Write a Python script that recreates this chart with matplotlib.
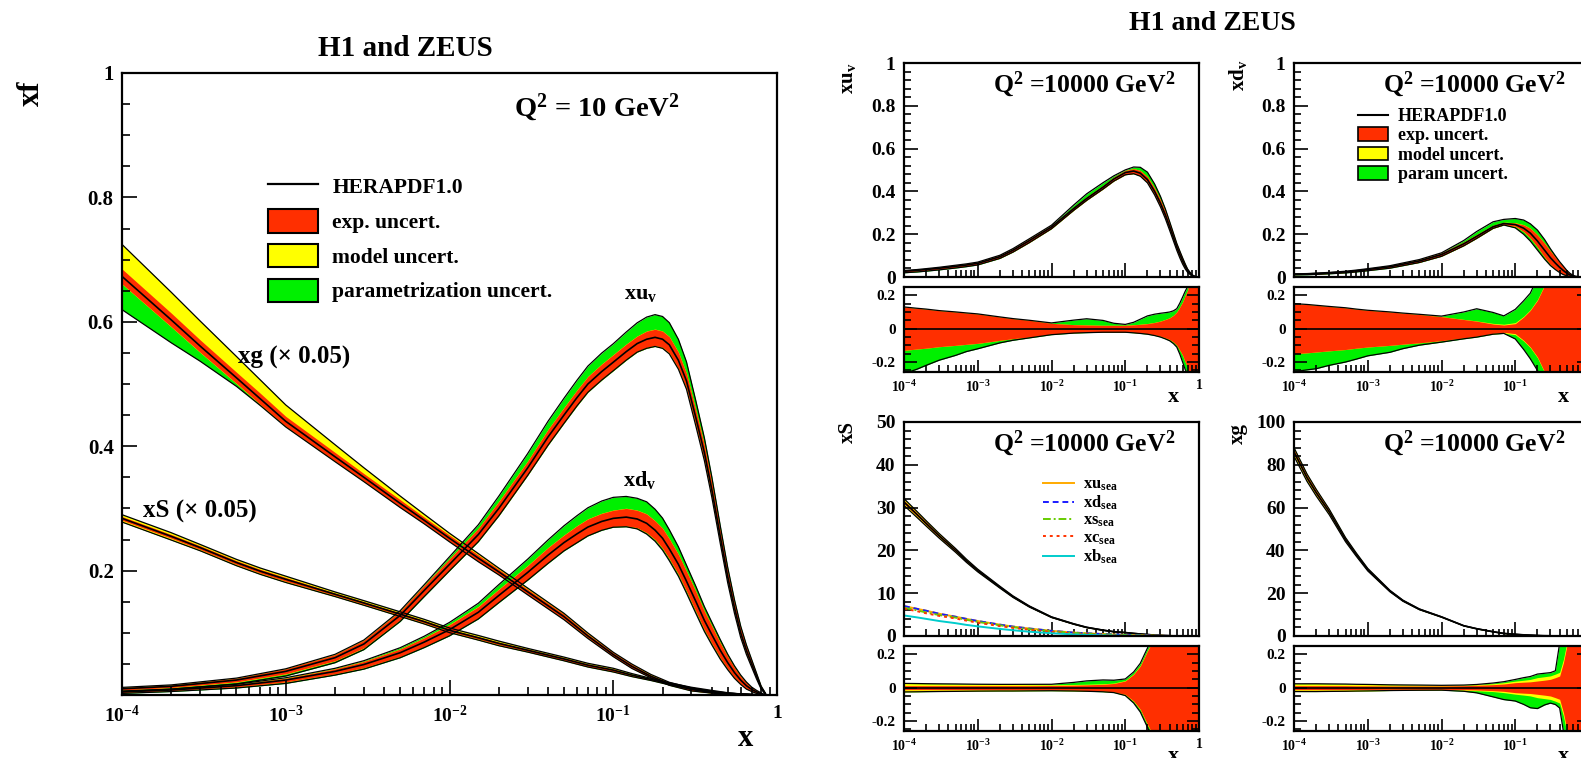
import numpy as np
import matplotlib
matplotlib.use('Agg')
import matplotlib.pyplot as plt
from matplotlib.ticker import LogLocator, NullFormatter, FuncFormatter, MultipleLocator
from matplotlib.lines import Line2D
from matplotlib.patches import Patch

plt.rcParams['font.family'] = ['Liberation Serif', 'DejaVu Serif']
plt.rcParams['font.weight'] = 'bold'
plt.rcParams['mathtext.fontset'] = 'custom'
plt.rcParams['mathtext.rm'] = 'Liberation Serif:bold'
plt.rcParams['mathtext.it'] = 'Liberation Serif:bold'
plt.rcParams['mathtext.bf'] = 'Liberation Serif:bold'
plt.rcParams['axes.unicode_minus'] = False

RED = '#ff2f00'
YEL = '#ffff00'
GRN = '#00f000'

# ---------------- left panel, Q2 = 10 GeV2 ----------------
# xg and xS (both x 0.05)
lx = [1e-4, 2e-4, 3e-4, 5e-4, 7e-4, 1e-3, 2e-3, 3e-3, 5e-3, 7e-3, 1e-2, 1.5e-2, 2e-2, 3e-2,
      5e-2, 7e-2, 0.1, 0.13, 0.17, 0.22, 0.3, 0.4, 0.5, 0.6, 0.7, 0.8, 0.9]

Lg_c = [0.673, 0.603, 0.561, 0.510, 0.476, 0.440, 0.383, 0.350, 0.308, 0.281, 0.252, 0.220, 0.198, 0.166,
        0.126, 0.095, 0.065, 0.046, 0.030, 0.018, 0.009, 0.004, 0.002, 0.001, 0.0005, 0.0002, 0.0]
Lg_exp = [0.012, 0.011, 0.010, 0.009, 0.009, 0.008, 0.007, 0.006, 0.006, 0.005, 0.005, 0.005, 0.004, 0.004,
          0.004, 0.003, 0.003, 0.003, 0.002, 0.002, 0.002, 0.001, 0.001, 0.001, 0.0005, 0.0002, 0.0]
Lg_mod_up = [0.050, 0.043, 0.039, 0.033, 0.029, 0.025, 0.018, 0.014, 0.010, 0.008, 0.006, 0.005, 0.004, 0.004,
             0.003, 0.003, 0.002, 0.002, 0.002, 0.001, 0.001, 0.001, 0.0005, 0.0, 0.0, 0.0, 0.0]
Lg_mod_dn = [0.003, 0.003, 0.003, 0.003, 0.003, 0.003, 0.003, 0.003, 0.002, 0.002, 0.002, 0.002, 0.002, 0.002,
             0.002, 0.002, 0.001, 0.001, 0.001, 0.001, 0.001, 0.0, 0.0, 0.0, 0.0, 0.0, 0.0]
Lg_par_up = [0.002, 0.002, 0.002, 0.002, 0.002, 0.002, 0.002, 0.002, 0.002, 0.002, 0.002, 0.002, 0.002, 0.002,
             0.002, 0.002, 0.001, 0.001, 0.001, 0.001, 0.001, 0.0, 0.0, 0.0, 0.0, 0.0, 0.0]
Lg_par_dn = [0.052, 0.035, 0.022, 0.010, 0.005, 0.003, 0.002, 0.002, 0.002, 0.002, 0.002, 0.002, 0.002, 0.002,
             0.002, 0.002, 0.001, 0.001, 0.001, 0.001, 0.001, 0.0, 0.0, 0.0, 0.0, 0.0, 0.0]

LS_c = [0.284, 0.255, 0.237, 0.213, 0.199, 0.186, 0.162, 0.148, 0.130, 0.118, 0.104, 0.092, 0.083, 0.072,
        0.058, 0.048, 0.040, 0.032, 0.025, 0.018, 0.011, 0.006, 0.003, 0.0015, 0.0007, 0.0002, 0.0]
LS_exp = [0.003, 0.003, 0.003, 0.003, 0.003, 0.003, 0.002, 0.002, 0.002, 0.002, 0.002, 0.002, 0.002, 0.002,
          0.002, 0.002, 0.002, 0.001, 0.001, 0.001, 0.001, 0.001, 0.0005, 0.0, 0.0, 0.0, 0.0]
LS_mod = [0.005, 0.005, 0.004, 0.004, 0.004, 0.004, 0.003, 0.003, 0.003, 0.003, 0.003, 0.003, 0.003, 0.002,
          0.002, 0.002, 0.002, 0.002, 0.001, 0.001, 0.001, 0.001, 0.0005, 0.0, 0.0, 0.0, 0.0]
LS_par = [0.001, 0.001, 0.001, 0.001, 0.001, 0.001, 0.001, 0.001, 0.001, 0.001, 0.001, 0.001, 0.001, 0.001,
          0.001, 0.001, 0.001, 0.001, 0.001, 0.001, 0.0005, 0.0, 0.0, 0.0, 0.0, 0.0, 0.0]

# valence distributions, denser in x around the peaks
vx = [1e-4, 2e-4, 5e-4, 1e-3, 2e-3, 3e-3, 5e-3, 7e-3, 1e-2, 1.5e-2,
      2e-2, 3e-2, 4e-2, 5e-2, 6e-2, 7e-2, 8.5e-2, 0.1, 0.12, 0.14,
      0.16, 0.18, 0.2, 0.22, 0.25, 0.28, 0.32, 0.36, 0.4, 0.45,
      0.5, 0.55, 0.6, 0.65, 0.7, 0.75, 0.8, 0.85]

Luv_c = [0.010, 0.014, 0.024, 0.038, 0.060, 0.082, 0.128, 0.168, 0.210, 0.258,
         0.300, 0.365, 0.415, 0.450, 0.478, 0.500, 0.520, 0.535, 0.552, 0.565,
         0.572, 0.575, 0.572, 0.563, 0.538, 0.505, 0.445, 0.390, 0.330, 0.255,
         0.190, 0.140, 0.100, 0.072, 0.050, 0.030, 0.012, 0.002]
Luv_exp = [0.002, 0.002, 0.003, 0.004, 0.005, 0.006, 0.007, 0.008, 0.009, 0.010,
           0.011, 0.011, 0.012, 0.012, 0.012, 0.012, 0.012, 0.012, 0.012, 0.012,
           0.013, 0.013, 0.013, 0.013, 0.013, 0.012, 0.012, 0.012, 0.011, 0.010,
           0.009, 0.008, 0.007, 0.006, 0.005, 0.004, 0.002, 0.001]
Luv_mod_up = [0.001, 0.001, 0.001, 0.001, 0.002, 0.002, 0.002, 0.002, 0.002, 0.002,
              0.003, 0.003, 0.003, 0.003, 0.003, 0.003, 0.003, 0.003, 0.003, 0.003,
              0.003, 0.003, 0.003, 0.003, 0.003, 0.003, 0.003, 0.003, 0.003, 0.003,
              0.002, 0.002, 0.002, 0.002, 0.001, 0.001, 0.001, 0.0]
Luv_mod_dn = [0.001, 0.001, 0.002, 0.002, 0.002, 0.003, 0.003, 0.003, 0.003, 0.004,
              0.004, 0.004, 0.005, 0.005, 0.005, 0.005, 0.006, 0.006, 0.006, 0.006,
              0.006, 0.006, 0.006, 0.006, 0.005, 0.005, 0.005, 0.004, 0.004, 0.003,
              0.003, 0.003, 0.002, 0.002, 0.001, 0.001, 0.001, 0.0]
Luv_par_up = [0.0, 0.0, 0.0, 0.0, 0.0, 0.001, 0.002, 0.004, 0.008, 0.012,
              0.016, 0.020, 0.022, 0.024, 0.025, 0.026, 0.027, 0.027, 0.029, 0.031,
              0.033, 0.034, 0.034, 0.033, 0.031, 0.028, 0.024, 0.020, 0.017, 0.014,
              0.012, 0.010, 0.008, 0.006, 0.005, 0.003, 0.001, 0.0]
Luv_par_dn = [0.004, 0.004, 0.005, 0.006, 0.006, 0.006, 0.006, 0.005, 0.004, 0.004,
              0.003, 0.003, 0.003, 0.003, 0.003, 0.003, 0.003, 0.003, 0.003, 0.003,
              0.003, 0.003, 0.003, 0.003, 0.003, 0.003, 0.003, 0.003, 0.003, 0.003,
              0.002, 0.002, 0.002, 0.002, 0.001, 0.001, 0.001, 0.0]

Ldv_c = [0.005, 0.008, 0.015, 0.024, 0.038, 0.049, 0.068, 0.085, 0.105, 0.133,
         0.160, 0.197, 0.225, 0.245, 0.259, 0.270, 0.279, 0.284, 0.286, 0.283,
         0.276, 0.265, 0.252, 0.235, 0.210, 0.183, 0.150, 0.120, 0.097, 0.072,
         0.052, 0.036, 0.024, 0.015, 0.009, 0.005, 0.002, 0.0]
Ldv_exp = [0.001, 0.001, 0.002, 0.003, 0.004, 0.005, 0.006, 0.007, 0.008, 0.009,
           0.010, 0.011, 0.012, 0.012, 0.013, 0.013, 0.013, 0.013, 0.014, 0.014,
           0.015, 0.015, 0.016, 0.016, 0.016, 0.016, 0.016, 0.015, 0.014, 0.012,
           0.010, 0.008, 0.006, 0.005, 0.003, 0.002, 0.001, 0.0]
Ldv_mod = [0.001, 0.001, 0.001, 0.002, 0.002, 0.002, 0.002, 0.002, 0.003, 0.003,
           0.003, 0.003, 0.003, 0.003, 0.003, 0.003, 0.003, 0.003, 0.003, 0.003,
           0.003, 0.003, 0.003, 0.003, 0.003, 0.003, 0.003, 0.003, 0.003, 0.003,
           0.002, 0.002, 0.002, 0.001, 0.001, 0.001, 0.0, 0.0]
Ldv_par_up = [0.0, 0.0, 0.0, 0.001, 0.002, 0.003, 0.005, 0.006, 0.008, 0.011,
              0.014, 0.018, 0.021, 0.024, 0.026, 0.028, 0.030, 0.031, 0.030, 0.030,
              0.031, 0.030, 0.028, 0.026, 0.023, 0.020, 0.018, 0.016, 0.014, 0.012,
              0.009, 0.007, 0.005, 0.003, 0.002, 0.001, 0.001, 0.0]
Ldv_par_dn = [0.002, 0.002, 0.003, 0.004, 0.004, 0.005, 0.005, 0.005, 0.005, 0.005,
              0.005, 0.005, 0.005, 0.005, 0.005, 0.005, 0.005, 0.005, 0.006, 0.007,
              0.008, 0.009, 0.010, 0.010, 0.010, 0.010, 0.010, 0.009, 0.008, 0.007,
              0.005, 0.004, 0.003, 0.002, 0.001, 0.001, 0.0, 0.0]

# ---------------- right panels, Q2 = 10000 GeV2 (uncertainties are relative) ----------------
rx = [1e-4, 1.5e-4, 2e-4, 3e-4, 5e-4, 7e-4, 1e-3, 2e-3, 3e-3, 5e-3,
      1e-2, 2e-2, 3e-2, 5e-2, 7e-2, 0.1, 0.13, 0.16, 0.2, 0.25,
      0.3, 0.35, 0.4, 0.45, 0.5, 0.55, 0.6, 0.65, 0.7, 0.8,
      0.9, 1.0]

uv_c = [0.027, 0.031, 0.035, 0.041, 0.050, 0.056, 0.064, 0.095, 0.125, 0.170,
        0.234, 0.320, 0.367, 0.420, 0.458, 0.488, 0.495, 0.485, 0.455, 0.400,
        0.345, 0.290, 0.235, 0.185, 0.140, 0.105, 0.075, 0.050, 0.030, 0.008,
        0.001, 0.0]
uv_exp = [0.13, 0.122, 0.117, 0.108, 0.10, 0.094, 0.088, 0.07, 0.06, 0.05,
          0.032, 0.024, 0.022, 0.02, 0.02, 0.02, 0.023, 0.026, 0.03, 0.037,
          0.045, 0.055, 0.065, 0.08, 0.10, 0.13, 0.16, 0.2, 0.23, 0.35,
          0.45, 0.5]
uv_mod = [0.01, 0.01, 0.01, 0.01, 0.01, 0.01, 0.01, 0.008, 0.007, 0.006,
          0.005, 0.005, 0.005, 0.005, 0.005, 0.005, 0.006, 0.007, 0.008, 0.009,
          0.01, 0.011, 0.012, 0.013, 0.015, 0.017, 0.02, 0.02, 0.02, 0.02,
          0.02, 0.02]
uv_par_up = [0.0, 0.0, 0.0, 0.0, 0.0, 0.0, 0.0, 0.0, 0.0, 0.0,
             0.012, 0.045, 0.055, 0.045, 0.025, 0.015, 0.03, 0.05, 0.07, 0.078,
             0.08, 0.078, 0.075, 0.07, 0.065, 0.08, 0.1, 0.1, 0.1, 0.05,
             0.05, 0.05]
uv_par_dn = [0.237, 0.21, 0.186, 0.155, 0.125, 0.1, 0.082, 0.048, 0.035, 0.023,
             0.016, 0.01, 0.008, 0.006, 0.006, 0.006, 0.008, 0.01, 0.012, 0.016,
             0.02, 0.025, 0.03, 0.038, 0.045, 0.08, 0.12, 0.14, 0.15, 0.15,
             0.15, 0.15]

dv_c = [0.013, 0.014, 0.016, 0.019, 0.024, 0.029, 0.035, 0.048, 0.060, 0.075,
        0.105, 0.155, 0.190, 0.235, 0.250, 0.245, 0.228, 0.205, 0.168, 0.125,
        0.090, 0.065, 0.045, 0.030, 0.018, 0.010, 0.005, 0.002, 0.001, 0.0,
        0.0, 0.0]
dv_exp = [0.15, 0.145, 0.14, 0.133, 0.125, 0.117, 0.11, 0.10, 0.093, 0.085,
          0.072, 0.055, 0.045, 0.028, 0.022, 0.03, 0.07, 0.11, 0.17, 0.26,
          0.35, 0.42, 0.5, 0.6, 0.65, 0.7, 0.75, 0.8, 0.9, 1.0,
          1.0, 1.0]
dv_mod = [0.01, 0.01, 0.01, 0.01, 0.01, 0.01, 0.01, 0.01, 0.01, 0.01,
          0.01, 0.01, 0.012, 0.015, 0.015, 0.02, 0.025, 0.03, 0.04, 0.045,
          0.05, 0.05, 0.05, 0.05, 0.05, 0.05, 0.05, 0.05, 0.05, 0.05,
          0.05, 0.05]
dv_par_up = [0.0, 0.0, 0.0, 0.0, 0.0, 0.0, 0.0, 0.0, 0.0, 0.01,
             0.02, 0.083, 0.11, 0.092, 0.072, 0.11, 0.15, 0.18, 0.25, 0.3,
             0.3, 0.3, 0.3, 0.3, 0.3, 0.3, 0.3, 0.3, 0.3, 0.3,
             0.3, 0.3]
dv_par_dn = [0.21, 0.2, 0.195, 0.175, 0.156, 0.14, 0.12, 0.10, 0.075, 0.05,
             0.035, 0.024, 0.02, 0.01, 0.01, 0.05, 0.1, 0.14, 0.18, 0.2,
             0.2, 0.2, 0.2, 0.2, 0.2, 0.2, 0.2, 0.2, 0.2, 0.2,
             0.2, 0.2]

S_c = [31.3, 28.4, 26.3, 23.4, 20.0, 17.6, 15.3, 11.4, 9.2, 6.9,
       4.4, 2.8, 2.0, 1.35, 1.0, 0.8, 0.6, 0.45, 0.32, 0.2,
       0.14, 0.09, 0.06, 0.04, 0.025, 0.016, 0.01, 0.006, 0.004, 0.001,
       0.0, 0.0]
S_exp = [0.012, 0.012, 0.012, 0.012, 0.012, 0.012, 0.012, 0.012, 0.012, 0.012,
         0.013, 0.015, 0.017, 0.02, 0.025, 0.04, 0.08, 0.13, 0.22, 0.3,
         0.4, 0.5, 0.6, 0.7, 0.8, 0.9, 1.0, 1.0, 1.0, 1.0,
         1.0, 1.0]
S_mod = [0.022, 0.021, 0.02, 0.019, 0.018, 0.017, 0.016, 0.015, 0.015, 0.014,
         0.012, 0.012, 0.012, 0.012, 0.012, 0.015, 0.022, 0.03, 0.04, 0.05,
         0.05, 0.05, 0.05, 0.05, 0.05, 0.05, 0.05, 0.05, 0.05, 0.05,
         0.05, 0.05]
S_par_up = [0.005, 0.005, 0.005, 0.005, 0.005, 0.005, 0.005, 0.005, 0.005, 0.008,
            0.01, 0.025, 0.035, 0.04, 0.035, 0.03, 0.045, 0.06, 0.08, 0.1,
            0.1, 0.1, 0.1, 0.1, 0.1, 0.1, 0.1, 0.1, 0.1, 0.1,
            0.1, 0.1]
S_par_dn = [0.005, 0.005, 0.005, 0.005, 0.005, 0.005, 0.005, 0.005, 0.005, 0.005,
            0.005, 0.005, 0.006, 0.008, 0.01, 0.02, 0.04, 0.06, 0.08, 0.1,
            0.1, 0.1, 0.1, 0.1, 0.1, 0.1, 0.1, 0.1, 0.1, 0.1,
            0.1, 0.1]

g_c = [86.0, 74.0, 67.0, 58.0, 45.0, 38.0, 31.0, 21.0, 16.5, 12.5,
       8.9, 4.8, 3.4, 2.0, 1.2, 0.8, 0.55, 0.38, 0.24, 0.14,
       0.09, 0.055, 0.035, 0.022, 0.013, 0.008, 0.005, 0.003, 0.002, 0.0005,
       0.0, 0.0]
g_exp = [0.012, 0.012, 0.012, 0.012, 0.012, 0.011, 0.011, 0.01, 0.01, 0.01,
         0.01, 0.012, 0.014, 0.018, 0.022, 0.03, 0.033, 0.035, 0.04, 0.045,
         0.05, 0.06, 0.07, 0.15, 0.25, 0.35, 0.5, 0.6, 0.8, 1.0,
         1.0, 1.0]
g_mod = [0.02, 0.02, 0.02, 0.019, 0.018, 0.017, 0.016, 0.014, 0.013, 0.012,
         0.01, 0.01, 0.012, 0.015, 0.02, 0.025, 0.03, 0.035, 0.045, 0.048,
         0.05, 0.055, 0.06, 0.08, 0.1, 0.12, 0.15, 0.18, 0.2, 0.2,
         0.2, 0.2]
g_par_up = [0.0, 0.0, 0.0, 0.0, 0.0, 0.0, 0.0, 0.0, 0.0, 0.0,
            0.0, 0.0, 0.005, 0.015, 0.02, 0.03, 0.04, 0.045, 0.055, 0.056,
            0.056, 0.06, 0.25, 0.3, 0.3, 0.3, 0.3, 0.3, 0.3, 0.3,
            0.3, 0.3]
g_par_dn = [0.0, 0.0, 0.0, 0.0, 0.0, 0.0, 0.0, 0.0, 0.0, 0.0,
            0.005, 0.015, 0.025, 0.05, 0.065, 0.07, 0.09, 0.11, 0.11, 0.08,
            0.06, 0.06, 0.08, 0.2, 0.3, 0.3, 0.3, 0.3, 0.3, 0.3,
            0.3, 0.3]

# sea quark components in the xS panel
u_sea = [7.0, 6.35, 5.9, 5.2, 4.5, 4.0, 3.5, 2.65, 2.2, 1.75,
         1.2, 0.8, 0.62, 0.44, 0.35, 0.27, 0.21, 0.16, 0.11, 0.075,
         0.05, 0.032, 0.02, 0.013, 0.008, 0.005, 0.003, 0.002, 0.001, 0.0,
         0.0, 0.0]
d_sea = [7.0, 6.35, 5.9, 5.2, 4.5, 4.0, 3.5, 2.65, 2.2, 1.75,
         1.2, 0.8, 0.63, 0.46, 0.37, 0.29, 0.23, 0.18, 0.12, 0.085,
         0.055, 0.036, 0.024, 0.016, 0.01, 0.006, 0.004, 0.002, 0.001, 0.0,
         0.0, 0.0]
s_sea = [6.6, 6.0, 5.5, 4.9, 4.3, 3.8, 3.3, 2.5, 2.05, 1.6,
         1.1, 0.72, 0.55, 0.38, 0.29, 0.21, 0.15, 0.11, 0.075, 0.045,
         0.03, 0.018, 0.012, 0.007, 0.005, 0.003, 0.002, 0.001, 0.0, 0.0,
         0.0, 0.0]
c_sea = [6.4, 5.8, 5.3, 4.7, 4.1, 3.6, 3.1, 2.3, 1.9, 1.45,
         0.95, 0.58, 0.42, 0.27, 0.19, 0.12, 0.08, 0.055, 0.03, 0.017,
         0.01, 0.006, 0.003, 0.002, 0.001, 0.0, 0.0, 0.0, 0.0, 0.0,
         0.0, 0.0]
b_sea = [4.8, 4.35, 4.0, 3.5, 3.0, 2.6, 2.25, 1.65, 1.35, 1.0,
         0.65, 0.38, 0.27, 0.16, 0.11, 0.07, 0.045, 0.03, 0.018, 0.01,
         0.006, 0.003, 0.002, 0.001, 0.0, 0.0, 0.0, 0.0, 0.0, 0.0,
         0.0, 0.0]
sea_lines = [('xu$_{sea}$', u_sea, '#ffaa00', '-'),
             ('xd$_{sea}$', d_sea, '#1a1aff', (0, (3, 2))),
             ('xs$_{sea}$', s_sea, '#66cc00', (0, (4, 1.5, 1, 1.5))),
             ('xc$_{sea}$', c_sea, '#ff3300', (0, (1.5, 2))),
             ('xb$_{sea}$', b_sea, '#00cccc', '-')]


def draw_band(ax, x, c, exp, mup, mdn, pup, pdn, scale=False):
    # red = exp, yellow = exp+model, green = exp+model+param (added in quadrature)
    c = np.asarray(c, float)
    k = c if scale else np.ones_like(c)
    e = np.asarray(exp) * k
    y_up = np.sqrt(e**2 + (np.asarray(mup) * k)**2)
    y_dn = np.sqrt(e**2 + (np.asarray(mdn) * k)**2)
    g_up = np.sqrt(y_up**2 + (np.asarray(pup) * k)**2)
    g_dn = np.sqrt(y_dn**2 + (np.asarray(pdn) * k)**2)
    ax.fill_between(x, c - g_dn, c + g_up, color=GRN, lw=0)
    ax.fill_between(x, c - y_dn, c + y_up, color=YEL, lw=0)
    ax.fill_between(x, c - e, c + e, color=RED, lw=0)
    ax.plot(x, c + g_up, color='k', lw=0.9)
    ax.plot(x, c - g_dn, color='k', lw=0.9)
    ax.plot(x, c, color='k', lw=1.2)


def log_fmt(v, pos):
    e = int(round(np.log10(v)))
    return '1' if e == 0 else r'10$^{%d}$' % e


def style(ax, xlab=True, xfs=12, yfs=14, right=False, maj=10, mnr=5):
    ax.set_xscale('log')
    ax.set_xlim(1e-4, 1)
    ax.xaxis.set_major_locator(LogLocator(base=10, numticks=10))
    ax.xaxis.set_minor_locator(LogLocator(base=10, subs=np.arange(2, 10), numticks=10))
    ax.xaxis.set_minor_formatter(NullFormatter())
    ax.xaxis.set_major_formatter(FuncFormatter(log_fmt) if xlab else NullFormatter())
    ax.tick_params(which='both', direction='in', top=False, right=right, width=1.2)
    ax.tick_params(which='major', length=maj)
    ax.tick_params(which='minor', length=mnr)
    ax.tick_params(axis='x', labelsize=xfs, pad=7)
    ax.tick_params(axis='y', labelsize=yfs, pad=6)
    ax.yaxis.set_major_formatter(FuncFormatter(lambda v, p: '%g' % round(v, 3)))
    for s in ax.spines.values():
        s.set_linewidth(1.6)


W, H = 1581, 758
fig = plt.figure(figsize=(W / 100, H / 100), dpi=100)


def add_px(l, t, r, b):
    return fig.add_axes([l / W, 1 - b / H, (r - l) / W, (b - t) / H])


def ftext(x, y, s, **kw):
    fig.text(x / W, 1 - y / H, s, **kw)


# ---- big left panel ----
ax = add_px(122, 73, 777, 695)
draw_band(ax, lx, Lg_c, Lg_exp, Lg_mod_up, Lg_mod_dn, Lg_par_up, Lg_par_dn)
draw_band(ax, lx, LS_c, LS_exp, LS_mod, LS_mod, LS_par, LS_par)
draw_band(ax, vx, Luv_c, Luv_exp, Luv_mod_up, Luv_mod_dn, Luv_par_up, Luv_par_dn)
draw_band(ax, vx, Ldv_c, Ldv_exp, Ldv_mod, Ldv_mod, Ldv_par_up, Ldv_par_dn)
style(ax, xfs=14, yfs=15, maj=11, mnr=6)
ax.set_ylim(0, 1)
ax.set_yticks([0.2, 0.4, 0.6, 0.8, 1.0])
ax.yaxis.set_minor_locator(MultipleLocator(0.05))
ax.text(0.147, 0.645, 'xu$_{v}$', fontsize=16, ha='center', va='center')
ax.text(0.145, 0.345, 'xd$_{v}$', fontsize=16, ha='center', va='center')
ax.text(1.12e-3, 0.543, 'xg (\u00d7 0.05)', fontsize=18, ha='center', va='center')
ax.text(3.0e-4, 0.295, 'xS (\u00d7 0.05)', fontsize=18, ha='center', va='center')
ax.text(0.725, 0.943, r'Q$^{2}$ = 10 GeV$^{2}$', fontsize=20.5, ha='center', va='center',
        transform=ax.transAxes)
handles = [Line2D([], [], color='k', lw=1.6),
           Patch(facecolor=RED, edgecolor='k', lw=1.5),
           Patch(facecolor=YEL, edgecolor='k', lw=1.5),
           Patch(facecolor=GRN, edgecolor='k', lw=1.5)]
ax.legend(handles, ['HERAPDF1.0', 'exp. uncert.', 'model uncert.', 'parametrization uncert.'],
          loc='upper left', bbox_to_anchor=(0.223, 0.837), frameon=False, fontsize=15.5,
          handlelength=2.33, handleheight=1.3, labelspacing=0.5, borderpad=0, borderaxespad=0,
          handletextpad=0.65)
ftext(405, 48, 'H1 and ZEUS', fontsize=21, ha='center', va='center')
ftext(31, 93, 'xf', fontsize=22, ha='center', va='center', rotation=90)
ftext(746, 738, 'x', fontsize=22, ha='center', va='center')

# ---- right 2x2 panels with ratio plots ----
panels = [
    (904, 63, 'xu$_{v}$', uv_c, uv_exp, uv_mod, uv_par_up, uv_par_dn, 1.0, 0.2, 15),
    (1294, 63, 'xd$_{v}$', dv_c, dv_exp, dv_mod, dv_par_up, dv_par_dn, 1.0, 0.2, 12),
    (904, 422, 'xS', S_c, S_exp, S_mod, S_par_up, S_par_dn, 50, 10, 10),
    (1294, 422, 'xg', g_c, g_exp, g_mod, g_par_up, g_par_dn, 100, 20, 12),
]
for (l, t, lab, c, e, m, pu, pd, ymax, ystep, ly) in panels:
    r = l + 295
    am = add_px(l, t, r, t + 214)
    draw_band(am, rx, c, e, m, m, pu, pd, scale=True)
    if lab == 'xS':
        hs = []
        for name, vals, col, ls in sea_lines:
            h, = am.plot(rx, vals, color=col, ls=ls, lw=1.4)
            hs.append(h)
        am.legend(hs, [s[0] for s in sea_lines], loc='upper left', bbox_to_anchor=(0.47, 0.745),
                  frameon=False, fontsize=12, handlelength=1.9, labelspacing=0.05,
                  borderpad=0, borderaxespad=0, handletextpad=0.55)
    style(am, xlab=False, yfs=14, maj=10, mnr=5)
    am.set_ylim(0, ymax)
    am.yaxis.set_major_locator(MultipleLocator(ystep))
    am.yaxis.set_minor_locator(MultipleLocator(ystep / 5))
    am.text(0.61, 0.9, r'Q$^{2}$ =10000 GeV$^{2}$', fontsize=18.5, ha='center', va='center',
            transform=am.transAxes)
    if lab == 'xd$_{v}$':
        hh = [Line2D([], [], color='k', lw=1.5),
              Patch(facecolor=RED, edgecolor='k', lw=1.2),
              Patch(facecolor=YEL, edgecolor='k', lw=1.2),
              Patch(facecolor=GRN, edgecolor='k', lw=1.2)]
        am.legend(hh, ['HERAPDF1.0', 'exp. uncert.', 'model uncert.', 'param uncert.'],
                  loc='upper left', bbox_to_anchor=(0.217, 0.79), frameon=False, fontsize=13,
                  handlelength=1.65, handleheight=0.8, labelspacing=0.12, borderpad=0,
                  borderaxespad=0, handletextpad=0.55)
    ftext(l - 56, t + ly, lab, fontsize=15, ha='center', va='center', rotation=90)

    ar = add_px(l, t + 224, r, t + 309)
    draw_band(ar, rx, [0.0] * len(rx), e, m, m, pu, pd)
    style(ar, xlab=True, xfs=10, yfs=11, right=True, maj=9, mnr=5)
    ar.set_ylim(-0.26, 0.25)
    ar.set_yticks([-0.2, 0.0, 0.2])
    ar.yaxis.set_minor_locator(MultipleLocator(0.05))
    ar.tick_params(axis='x', pad=5)
    ftext(l + 269, t + 334, 'x', fontsize=16, ha='center', va='center')

ftext(1212, 23, 'H1 and ZEUS', fontsize=20, ha='center', va='center')

fig.savefig('out.png', dpi=100)
